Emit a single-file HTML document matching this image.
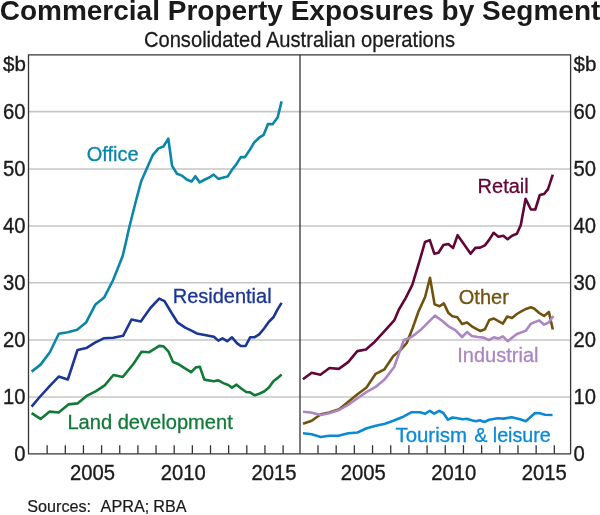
<!DOCTYPE html>
<html><head><meta charset="utf-8">
<style>
html,body{margin:0;padding:0;background:#fff;}
body{width:600px;height:515px;overflow:hidden;}
svg{display:block;will-change:transform;}
text{font-family:"Liberation Sans", sans-serif;fill:#1a1a1a;}
</style></head>
<body>
<svg width="600" height="515" viewBox="0 0 600 515">
<text transform="translate(300,19.7) scale(1,1.0)" font-size="28" font-weight="bold" text-anchor="middle">Commercial Property Exposures by Segment</text>
<text transform="translate(299.5,46.8) scale(1,1.05)" font-size="20.15" text-anchor="middle" style="stroke:#1a1a1a;stroke-width:0.25">Consolidated Australian operations</text>
<g stroke="#c6c6c6" stroke-width="1.6"><line x1="28.5" x2="570.5" y1="397.00" y2="397.00"/><line x1="28.5" x2="570.5" y1="340.00" y2="340.00"/><line x1="28.5" x2="570.5" y1="282.80" y2="282.80"/><line x1="28.5" x2="570.5" y1="226.00" y2="226.00"/><line x1="28.5" x2="570.5" y1="169.00" y2="169.00"/><line x1="28.5" x2="570.5" y1="111.60" y2="111.60"/></g>
<g font-size="21" style="stroke:#1a1a1a;stroke-width:0.35">
<text transform="translate(25.50,460.80) scale(0.965,1.04)" text-anchor="end">0</text><text transform="translate(573.50,460.80) scale(0.965,1.04)" text-anchor="start">0</text><text transform="translate(25.50,403.77) scale(0.965,1.04)" text-anchor="end">10</text><text transform="translate(573.50,403.77) scale(0.965,1.04)" text-anchor="start">10</text><text transform="translate(25.50,346.74) scale(0.965,1.04)" text-anchor="end">20</text><text transform="translate(573.50,346.74) scale(0.965,1.04)" text-anchor="start">20</text><text transform="translate(25.50,289.71) scale(0.965,1.04)" text-anchor="end">30</text><text transform="translate(573.50,289.71) scale(0.965,1.04)" text-anchor="start">30</text><text transform="translate(25.50,232.68) scale(0.965,1.04)" text-anchor="end">40</text><text transform="translate(573.50,232.68) scale(0.965,1.04)" text-anchor="start">40</text><text transform="translate(25.50,175.65) scale(0.965,1.04)" text-anchor="end">50</text><text transform="translate(573.50,175.65) scale(0.965,1.04)" text-anchor="start">50</text><text transform="translate(25.50,118.62) scale(0.965,1.04)" text-anchor="end">60</text><text transform="translate(573.50,118.62) scale(0.965,1.04)" text-anchor="start">60</text><text x="25.8" y="70.5" text-anchor="end" font-size="20.5">$b</text><text x="573.6" y="70.5" font-size="20.5">$b</text>
</g>
<g stroke="#353334" stroke-width="1.3"><line x1="47.15" x2="47.15" y1="445.2" y2="453.8"/><line x1="65.30" x2="65.30" y1="445.2" y2="453.8"/><line x1="83.45" x2="83.45" y1="445.2" y2="453.8"/><line x1="101.60" x2="101.60" y1="445.2" y2="453.8"/><line x1="119.75" x2="119.75" y1="445.2" y2="453.8"/><line x1="137.90" x2="137.90" y1="445.2" y2="453.8"/><line x1="156.05" x2="156.05" y1="445.2" y2="453.8"/><line x1="174.20" x2="174.20" y1="445.2" y2="453.8"/><line x1="192.35" x2="192.35" y1="445.2" y2="453.8"/><line x1="210.50" x2="210.50" y1="445.2" y2="453.8"/><line x1="228.65" x2="228.65" y1="445.2" y2="453.8"/><line x1="246.80" x2="246.80" y1="445.2" y2="453.8"/><line x1="264.95" x2="264.95" y1="445.2" y2="453.8"/><line x1="283.10" x2="283.10" y1="445.2" y2="453.8"/><line x1="318.00" x2="318.00" y1="445.2" y2="453.8"/><line x1="336.18" x2="336.18" y1="445.2" y2="453.8"/><line x1="354.36" x2="354.36" y1="445.2" y2="453.8"/><line x1="372.54" x2="372.54" y1="445.2" y2="453.8"/><line x1="390.72" x2="390.72" y1="445.2" y2="453.8"/><line x1="408.90" x2="408.90" y1="445.2" y2="453.8"/><line x1="427.08" x2="427.08" y1="445.2" y2="453.8"/><line x1="445.26" x2="445.26" y1="445.2" y2="453.8"/><line x1="463.44" x2="463.44" y1="445.2" y2="453.8"/><line x1="481.62" x2="481.62" y1="445.2" y2="453.8"/><line x1="499.80" x2="499.80" y1="445.2" y2="453.8"/><line x1="517.98" x2="517.98" y1="445.2" y2="453.8"/><line x1="536.16" x2="536.16" y1="445.2" y2="453.8"/><line x1="554.34" x2="554.34" y1="445.2" y2="453.8"/></g>
<g font-size="21" style="stroke:#1a1a1a;stroke-width:0.35"><text transform="translate(92.40,479.60) scale(0.965,1.04)" text-anchor="middle">2005</text><text transform="translate(183.20,479.60) scale(0.965,1.04)" text-anchor="middle">2010</text><text transform="translate(273.90,479.60) scale(0.965,1.04)" text-anchor="middle">2015</text><text transform="translate(363.30,479.60) scale(0.965,1.04)" text-anchor="middle">2005</text><text transform="translate(453.70,479.60) scale(0.965,1.04)" text-anchor="middle">2010</text><text transform="translate(544.30,479.60) scale(0.965,1.04)" text-anchor="middle">2015</text></g>
<polyline fill="none" stroke="#0b86a8" stroke-width="2.6" stroke-linejoin="round" stroke-linecap="butt" points="31.6,371.6 40.6,364.6 50.0,352.0 58.8,333.8 67.8,332.2 77.2,329.8 86.0,322.6 95.2,304.8 104.1,297.6 112.9,280.5 122.6,256.2 126.5,239.7 128.6,230.0 135.2,203.8 141.1,181.5 147.9,165.9 152.7,155.2 158.5,148.4 163.4,146.5 168.3,138.7 172.1,165.9 177.0,173.7 181.8,175.6 186.7,179.5 191.6,181.5 195.4,176.2 199.7,182.4 204.9,179.5 209.3,177.5 213.6,174.6 218.4,178.9 223.3,177.5 227.6,176.6 232.0,169.8 235.9,164.9 240.8,157.1 245.0,157.1 249.5,150.3 254.4,142.2 259.2,137.7 263.7,134.8 268.0,124.1 272.8,124.1 277.7,117.3 281.6,101.4"/>
<polyline fill="none" stroke="#1c3695" stroke-width="2.6" stroke-linejoin="round" stroke-linecap="butt" points="31.6,406.7 39.7,397.0 49.4,386.3 58.7,376.6 67.8,379.5 77.5,350.0 86.3,348.1 95.0,342.6 103.7,338.3 113.4,337.8 123.1,335.8 131.5,319.5 140.8,321.5 150.4,308.0 159.2,298.6 164.5,301.2 171.6,313.0 177.4,322.3 185.2,327.6 192.0,330.9 196.8,333.4 204.6,335.0 213.9,336.7 218.3,340.6 222.5,338.3 227.2,341.2 232.0,337.3 236.9,343.1 240.8,346.0 245.6,346.0 250.1,337.3 254.4,337.3 259.2,334.4 264.1,328.5 268.9,321.7 273.4,317.3 277.7,309.1 281.6,302.9"/>
<polyline fill="none" stroke="#117a37" stroke-width="2.6" stroke-linejoin="round" stroke-linecap="butt" points="31.6,413.1 40.6,418.9 49.7,411.6 58.7,412.5 68.4,404.4 77.5,403.4 87.2,395.6 96.0,391.2 104.7,385.3 113.4,375.0 122.8,377.0 133.7,363.5 141.5,351.8 149.3,352.2 159.2,345.9 163.5,346.3 168.3,351.3 173.0,362.0 177.5,363.7 191.0,372.2 195.9,367.4 199.9,366.8 204.3,379.6 213.6,381.2 218.4,380.4 223.3,383.1 228.2,385.0 232.0,387.6 236.5,384.7 241.2,388.5 246.2,392.0 250.1,392.4 254.8,395.3 259.2,393.8 264.1,391.5 268.9,387.6 273.4,381.2 277.7,377.9 281.6,374.6"/>
<polyline fill="none" stroke="#620537" stroke-width="2.6" stroke-linejoin="round" stroke-linecap="butt" points="302.9,379.2 311.7,372.8 320.4,374.8 329.5,368.0 338.8,368.9 348.2,362.1 357.3,351.1 366.0,349.5 374.8,341.7 384.5,331.1 394.2,320.4 398.9,309.5 405.5,298.3 412.3,284.8 419.1,262.4 425.0,242.0 429.8,240.1 434.3,253.7 438.5,252.7 443.4,245.0 448.3,244.0 453.1,247.9 457.6,235.2 463.8,244.0 470.6,253.7 475.4,247.9 480.1,247.6 484.9,245.4 489.3,239.6 493.6,232.8 498.4,236.7 503.3,235.7 507.6,239.2 512.0,235.7 516.9,233.8 520.8,225.0 525.6,198.8 530.9,209.5 535.3,209.5 539.8,195.0 544.1,194.0 548.0,189.1 552.8,174.6"/>
<polyline fill="none" stroke="#70520e" stroke-width="2.6" stroke-linejoin="round" stroke-linecap="butt" points="303.0,423.7 311.7,420.8 320.8,414.2 329.2,412.5 339.2,409.2 348.3,401.7 357.5,394.2 366.5,387.5 375.7,373.8 384.5,369.3 393.2,356.3 400.0,350.6 406.8,342.8 412.6,328.3 418.4,311.7 425.1,297.0 430.0,277.8 434.6,304.4 439.6,306.3 443.8,303.4 448.5,313.1 452.4,316.2 457.3,317.2 462.1,324.0 467.0,322.4 471.8,326.3 476.7,329.2 480.4,331.0 484.9,329.3 489.3,320.0 493.9,318.5 498.4,321.2 502.9,323.7 507.2,316.5 512.0,317.9 516.9,314.0 521.7,311.1 526.6,308.7 530.9,307.2 534.4,308.7 539.2,313.0 544.1,315.9 548.9,312.0 552.8,329.5"/>
<polyline fill="none" stroke="#ac86c2" stroke-width="2.6" stroke-linejoin="round" stroke-linecap="butt" points="303.0,411.7 310.8,412.5 320.8,415.0 329.2,413.3 339.2,410.0 348.3,404.7 357.5,398.3 366.7,391.9 375.3,387.2 384.5,379.6 394.2,367.0 400.0,350.6 403.9,339.9 409.7,338.0 415.5,334.1 421.4,329.2 428.2,322.4 435.0,315.6 441.7,320.5 448.5,326.3 455.3,330.2 462.1,337.0 467.0,332.1 471.8,336.0 477.7,337.0 483.5,337.6 488.9,340.0 493.9,337.3 498.4,338.6 502.9,336.3 507.6,341.2 516.9,334.0 525.6,330.9 530.9,323.7 539.2,320.4 544.1,324.7 548.9,322.3 553.4,315.9"/>
<polyline fill="none" stroke="#0a8ad4" stroke-width="2.6" stroke-linejoin="round" stroke-linecap="butt" points="303.0,433.3 311.7,434.2 320.8,437.0 329.2,435.8 338.3,435.8 348.3,433.3 357.5,432.5 366.7,428.3 375.8,425.8 385.0,423.7 393.3,420.8 403.3,416.7 411.7,412.2 420.0,412.2 425.3,413.8 429.7,410.8 434.2,413.7 439.2,410.8 443.3,413.0 448.0,419.7 452.5,417.5 457.5,418.3 462.5,419.2 466.7,418.8 471.7,420.3 475.8,421.2 480.0,420.3 484.2,422.0 489.2,419.7 497.5,418.2 503.3,418.6 511.7,417.3 520.0,419.2 525.8,421.2 530.0,417.5 535.0,413.0 540.0,413.3 545.0,414.7 552.5,415.0"/>
<g fill="none" stroke="#353334" stroke-width="1.3">
<polyline points="28.5,453.8 28.5,54.8 570.6,54.8 570.6,453.8"/>
<line x1="28" x2="571" y1="453.8" y2="453.8"/>
<line x1="300" x2="300" y1="54.8" y2="453.8"/>
</g>
<g font-size="20" style="stroke-width:0.3">
<text x="86.8" y="160.5" style="fill:#0b86a8;stroke:#0b86a8">Office</text>
<text x="172.7" y="303" style="fill:#1c3695;stroke:#1c3695">Residential</text>
<text x="67.4" y="429" font-size="20.1" style="fill:#117a37;stroke:#117a37">Land development</text>
<text x="477.6" y="192.5" style="fill:#620537;stroke:#620537">Retail</text>
<text x="458.8" y="303.8" style="fill:#70520e;stroke:#70520e">Other</text>
<text x="457.3" y="362" style="fill:#ac86c2;stroke:#ac86c2">Industrial</text>
<text x="395.5" y="442" style="fill:#0a8ad4;stroke:#0a8ad4" font-size="20.4">Tourism</text><text x="474.2" y="442" style="fill:#0a8ad4;stroke:#0a8ad4" font-size="19.7">&amp; leisure</text>
</g>
<g font-size="16.2" style="stroke:#1a1a1a;stroke-width:0.2"><text x="27.2" y="511.8">Sources:</text><text x="100.6" y="511.8">APRA;</text><text x="153.2" y="511.8">RBA</text></g>
</svg>
</body></html>
